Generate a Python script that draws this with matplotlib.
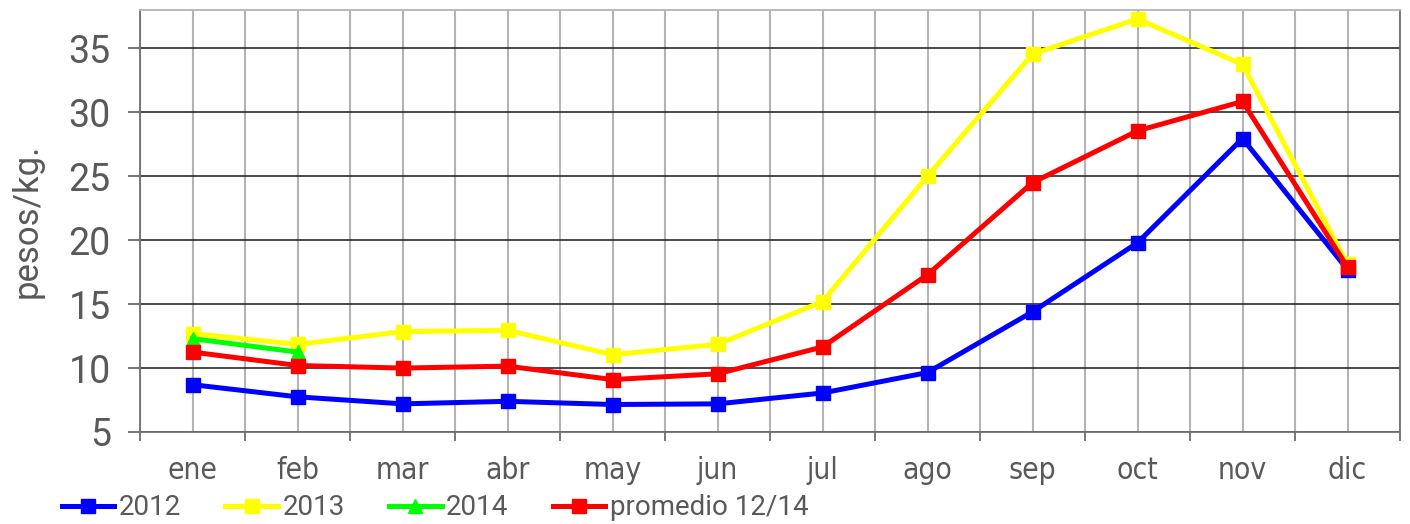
import numpy as np
import matplotlib
matplotlib.use("Agg")
import matplotlib.pyplot as plt

months = ["ene", "feb", "mar", "abr", "may", "jun", "jul", "ago", "sep", "oct", "nov", "dic"]
s2012 = [8.7, 7.75, 7.2, 7.4, 7.15, 7.2, 8.05, 9.65, 14.4, 19.8, 27.95, 17.7]
s2013 = [12.7, 11.85, 12.85, 12.95, 11.05, 11.85, 15.2, 25.0, 34.55, 37.3, 33.75, 18.1]
s2014 = [12.3, 11.25]
prom = [11.25, 10.2, 10.0, 10.15, 9.1, 9.55, 11.65, 17.3, 24.5, 28.55, 30.85, 17.9]
yticks = [5, 10, 15, 20, 25, 30, 35]

TXT = "#595959"
fig = plt.figure(figsize=(14.1, 5.24), dpi=100)
ax = fig.add_axes([140/1410, 92/524, 1260/1410, 422/524])

x = np.arange(len(months))
lw = 3.6
ms = 10.5
ax.plot(x, s2012, color="#0000ff", lw=lw, marker="s", ms=ms, label="2012", zorder=4)
ax.plot(x, s2013, color="#ffff00", lw=lw, marker="s", ms=ms, label="2013", zorder=4)
ax.plot(x[:len(s2014)], s2014, color="#00ff00", lw=lw, marker="^", ms=ms, label="2014", zorder=5)
ax.plot(x, prom, color="#ff0000", lw=lw, marker="s", ms=ms, label="promedio 12/14", zorder=6)

ax.set_xlim(-0.5, 11.5)
ax.set_ylim(5, 38)
ax.set_xticks(np.arange(-0.5, 12, 1))
ax.set_xticklabels([])
ax.set_xticks(x, minor=True)
ax.set_xticklabels(months, minor=True, fontsize=21.5, color=TXT, family="DejaVu Sans", fontstretch="condensed")
ax.tick_params(axis="x", which="major", length=6.5, width=1.2, color="#606060", direction="out")
ax.tick_params(axis="x", which="minor", length=0, pad=17)
ax.set_yticks(yticks)
ax.set_yticklabels([str(v) for v in yticks], fontsize=27, color=TXT, family="Roboto")
ax.tick_params(axis="y", length=9, width=1.2, color="#606060", pad=12)

ax.grid(axis="x", which="both", color="#b4b4b4", lw=1.5, zorder=0)
ax.grid(axis="y", which="major", color="#2a2a2a", lw=1.2, zorder=1)
ax.set_axisbelow(True)

for side in ["left", "bottom", "right"]:
    ax.spines[side].set_color("#707070")
    ax.spines[side].set_linewidth(1.3)
ax.spines["top"].set_color("#b4b4b4")
ax.spines["top"].set_linewidth(1.3)

ax.set_ylabel("pesos/kg.", fontsize=25, color=TXT, family="Roboto", labelpad=18)

leg = fig.legend(loc="lower left", bbox_to_anchor=(45/1410, -0.027), ncol=4, frameon=False,
                 prop={"family": "Roboto", "size": 20},
                 handlelength=1.9, handletextpad=0.15, columnspacing=1.6, borderaxespad=0.2)
for t in leg.get_texts():
    t.set_color(TXT)

fig.savefig("out.png", dpi=100)
